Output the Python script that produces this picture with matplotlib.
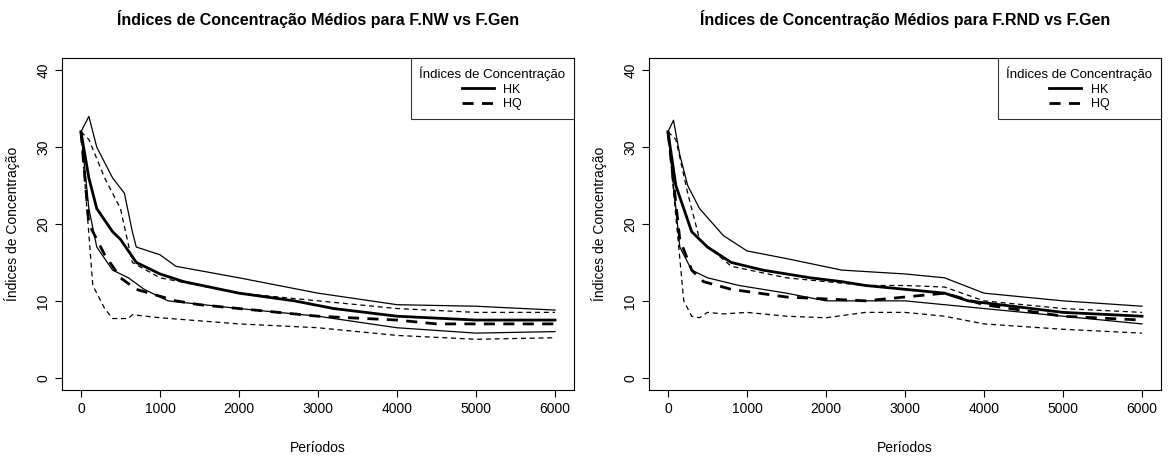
import matplotlib

matplotlib.use("Agg")
import matplotlib.pyplot as plt

plt.rcParams["font.family"] = ["Liberation Sans", "DejaVu Sans"]

# left panel: F.NW vs F.Gen
nw_hk_mean_x = [0, 100, 200, 400, 500, 600, 700, 1000, 1300, 2000, 2700, 3200, 4000, 5000, 6000]
nw_hk_mean_y = [32, 26, 22, 19, 18, 16.5, 15, 13.5, 12.5, 11, 10, 9, 8, 7.5, 7.5]
nw_hk_up_x = [0, 100, 200, 400, 550, 650, 700, 1000, 1200, 2000, 3000, 4000, 5000, 6000]
nw_hk_up_y = [32, 34, 30, 26, 24, 19, 17, 16, 14.5, 13, 11, 9.5, 9.3, 8.8]
nw_hk_lo_x = [0, 100, 200, 400, 600, 800, 1100, 2000, 3000, 4000, 5000, 6000]
nw_hk_lo_y = [32, 22, 17, 14, 13, 11.5, 10, 9, 8, 6.5, 5.8, 6]
nw_hq_mean_x = [0, 100, 300, 500, 700, 1200, 1500, 2500, 3000, 4000, 4500, 6000]
nw_hq_mean_y = [32, 20, 16, 13, 11.5, 10, 9.5, 8.5, 8, 7.5, 7, 7]
nw_hq_up_x = [0, 100, 300, 500, 650, 1000, 1500, 2000, 3000, 4000, 5000, 6000]
nw_hq_up_y = [32, 31, 26, 22, 15, 13, 12, 11, 10, 9, 8.5, 8.5]
nw_hq_lo_x = [0, 150, 300, 400, 600, 650, 1000, 2000, 3000, 4000, 5000, 6000]
nw_hq_lo_y = [32, 12, 9, 7.7, 7.7, 8.2, 7.8, 7, 6.5, 5.5, 5, 5.2]

# right panel: F.RND vs F.Gen
rnd_hk_mean_x = [0, 100, 300, 500, 800, 1200, 1800, 2200, 2500, 3000, 3500, 3800, 4200, 5000, 6000]
rnd_hk_mean_y = [32, 25, 19, 17, 15, 14, 13, 12.5, 12, 11.5, 11, 10, 9.5, 8.5, 8]
rnd_hk_up_x = [0, 70, 150, 250, 400, 700, 1000, 1500, 2200, 3000, 3500, 4000, 5000, 6000]
rnd_hk_up_y = [32, 33.5, 29, 25, 22, 18.5, 16.5, 15.5, 14, 13.5, 13, 11, 10, 9.3]
rnd_hk_lo_x = [0, 150, 300, 500, 900, 1500, 2000, 3000, 4000, 5000, 6000]
rnd_hk_lo_y = [32, 17, 14, 13, 12, 11, 10, 10, 9, 8, 7]
rnd_hq_mean_x = [0, 150, 300, 450, 800, 1500, 2500, 3000, 3500, 4000, 5000, 6000]
rnd_hq_mean_y = [32, 18, 14, 12.5, 11.5, 10.5, 10, 10.5, 11, 9.5, 8, 7.5]
rnd_hq_up_x = [0, 100, 250, 400, 800, 1500, 2500, 3000, 3500, 4000, 5000, 6000]
rnd_hq_up_y = [32, 31, 24, 18, 14.5, 13, 12, 12, 11.8, 10, 9, 8.5]
rnd_hq_lo_x = [0, 200, 300, 400, 500, 700, 1000, 1500, 2000, 2500, 3000, 3500, 4000, 5000, 6000]
rnd_hq_lo_y = [32, 10, 8, 7.8, 8.5, 8.3, 8.5, 8, 7.8, 8.5, 8.5, 8, 7, 6.3, 5.8]

x_ticks = [0, 1000, 2000, 3000, 4000, 5000, 6000]
y_ticks = [0, 10, 20, 30, 40]

panels = [
    ("Índices de Concentração Médios para F.NW vs F.Gen", 62,
     (nw_hk_mean_x, nw_hk_mean_y), (nw_hk_up_x, nw_hk_up_y), (nw_hk_lo_x, nw_hk_lo_y),
     (nw_hq_mean_x, nw_hq_mean_y), (nw_hq_up_x, nw_hq_up_y), (nw_hq_lo_x, nw_hq_lo_y)),
    ("Índices de Concentração Médios para F.RND vs F.Gen", 649,
     (rnd_hk_mean_x, rnd_hk_mean_y), (rnd_hk_up_x, rnd_hk_up_y), (rnd_hk_lo_x, rnd_hk_lo_y),
     (rnd_hq_mean_x, rnd_hq_mean_y), (rnd_hq_up_x, rnd_hq_up_y), (rnd_hq_lo_x, rnd_hq_lo_y)),
]

fig = plt.figure(figsize=(11.76, 4.61), dpi=100)
for title, left, hk_m, hk_u, hk_l, hq_m, hq_u, hq_l in panels:
    ax = fig.add_axes([left / 1176, 71 / 461, 512 / 1176, 332 / 461])
    ax.plot(*hk_m, color="black", lw=2, label="HK")
    ax.plot(*hq_m, color="black", lw=2, ls=(0, (4, 3)), label="HQ")
    ax.plot(*hk_u, color="black", lw=0.9)
    ax.plot(*hk_l, color="black", lw=0.9)
    ax.plot(*hq_u, color="black", lw=0.9, ls=(0, (4, 3)))
    ax.plot(*hq_l, color="black", lw=0.9, ls=(0, (4, 3)))
    ax.set_xlim(-240, 6240)
    ax.set_ylim(-1.6, 41.6)
    ax.set_xticks(x_ticks)
    ax.set_yticks(y_ticks)
    ax.set_yticklabels([str(t) for t in y_ticks], rotation=90, va="center")
    ax.tick_params(labelsize=10, length=5)
    ax.set_xlabel("Períodos", fontsize=10, labelpad=18)
    ax.set_ylabel("Índices de Concentração", fontsize=10, labelpad=12)
    ax.set_title(title, fontsize=11.5, fontweight="bold", pad=24)
    leg = ax.legend(title="Índices de Concentração", loc="upper right",
                    borderaxespad=0, fancybox=False, edgecolor="black",
                    fontsize=9, title_fontsize=9.5, handlelength=2.5,
                    borderpad=0.7, labelspacing=0.2)
    leg.get_frame().set_linewidth(0.8)

fig.savefig("out.png", dpi=100)
